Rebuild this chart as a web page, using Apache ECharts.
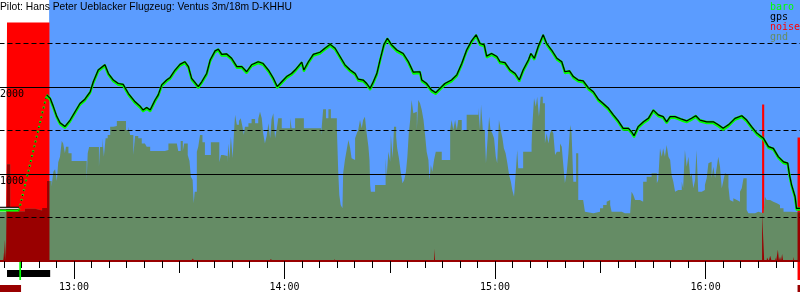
<!DOCTYPE html>
<html><head><meta charset="utf-8">
<script src="https://cdn.jsdelivr.net/npm/echarts@6/dist/echarts.min.js"></script>
<style>html,body{margin:0;padding:0;background:#fff}#c{width:800px;height:300px}</style>
</head><body><div id="c"></div>
<script>
// All times are minutes after midnight
const titleText = 'Pilot: Hans Peter Ueblacker Flugzeug: Ventus 3m/18m D-KHHU';
const legendNames = ['baro', 'gps', 'noise', 'gnd'];
const yLabelValues = [1000, 2000];

const viewStart = 758.9, viewEnd = 986.9;       // visible time window
const flightPeriod = [772.9, 986.9];             // blue sky background
const towPeriod = [760.9, 773.2];                // black bar under axis
const takeoffMark = [764.4, 764.9];              // green marker
const preNoiseMark = [758.9, 764.9];             // dark red marker
const endMark = [986.2, 986.9];                  // red marker

// barograph on the ground, tow and free flight
const baroGroundTimes = [758.9, 764.3];
const baroGroundValues = [580, 580];
const gpsGroundValues = [605, 605];
const baroTowTimes = [764.3, 772.2];
const baroTowValues = [580, 1910];
const baroTimes = [772.2,773.2,774.1,775.1,776.0,777.4,778.9,780.3,781.7,783.1,784.6,785.5,786.9,788.8,789.8,791.2,792.6,794.0,795.5,797.4,798.8,799.7,800.7,801.7,803.1,804.0,805.0,806.4,807.4,808.8,810.2,811.6,812.6,813.5,814.5,815.4,816.4,817.8,818.8,820.2,821.1,822.1,823.5,824.9,826.4,827.8,829.2,830.6,832.5,833.9,835.4,836.8,837.9,839.2,840.6,842.0,843.0,844.9,845.5,846.8,848.2,850.1,851.5,853.0,854.4,855.8,857.2,858.7,860.1,861.0,862.4,863.4,864.4,865.3,866.3,867.2,868.3,869.3,870.5,872.0,873.8,875.3,876.7,878.6,879.1,880.5,881.9,883.1,884.3,885.7,887.6,889.1,890.5,891.9,893.3,894.6,895.7,896.9,897.6,899.0,900.5,901.4,902.8,904.3,905.7,906.9,908.0,909.5,910.2,911.2,912.3,913.7,914.7,916.1,917.6,919.0,919.9,921.2,922.3,923.7,925.1,926.6,928.0,929.4,930.8,932.3,933.7,935.1,936.5,938.0,938.9,939.6,940.8,942.3,943.7,945.1,946.5,947.9,948.9,949.9,951.3,953.2,954.6,956.0,957.2,958.4,960.3,962.2,963.6,965.0,966.5,968.4,970.3,971.7,973.1,974.6,976.5,977.9,979.3,980.7,982.2,983.4,983.9,984.5,985.5,985.9,986.9];
const baroValues = [1910,1870,1775,1660,1590,1545,1620,1715,1810,1860,1945,2060,2195,2255,2155,2080,2040,2030,1925,1830,1780,1735,1765,1735,1850,1910,2025,2080,2110,2195,2260,2290,2235,2100,2050,2005,2060,2155,2310,2415,2435,2375,2380,2330,2235,2235,2175,2255,2290,2270,2195,2100,2005,2060,2120,2155,2195,2285,2195,2290,2375,2400,2445,2490,2445,2350,2255,2195,2155,2090,2080,2040,1985,2060,2155,2310,2485,2560,2485,2425,2385,2290,2170,2175,2080,2040,1965,1935,1985,2040,2080,2140,2270,2425,2530,2600,2500,2485,2355,2385,2350,2290,2280,2195,2155,2080,2195,2310,2385,2330,2465,2600,2500,2425,2330,2290,2175,2185,2120,2080,2070,1990,1945,1860,1810,1755,1680,1610,1525,1525,1485,1440,1545,1600,1640,1735,1680,1660,1600,1660,1660,1630,1610,1640,1670,1620,1600,1600,1565,1525,1565,1640,1670,1620,1545,1470,1410,1315,1295,1200,1140,1125,990,875,740,605,605];

// ground elevation (step)
const gndTimes = [758.9,760.9,761.8,766.0,768.9,770.9,772.3,773.6,774.1,774.6,775.1,775.5,776.0,776.5,776.9,777.4,777.7,778.4,779.3,783.6,783.9,784.3,787.1,787.4,788.1,788.5,789.0,789.6,790.3,791.2,792.2,794.8,795.5,796.0,796.9,797.4,798.3,799.3,800.2,800.7,801.7,805.9,806.9,809.3,809.7,810.4,811.0,811.4,812.4,812.9,813.3,813.8,814.1,814.4,815.0,815.4,815.9,816.6,817.3,819.0,821.4,821.9,822.5,823.0,823.7,824.0,824.3,824.7,825.2,825.6,825.9,826.4,827.0,827.5,828.0,828.4,828.7,829.7,830.6,831.6,832.5,833.0,833.5,833.9,834.4,834.9,835.4,835.9,836.3,836.8,837.3,837.8,838.2,839.2,841.6,842.0,843.0,845.5,850.4,850.8,851.0,851.8,852.5,853.2,854.9,855.3,855.6,856.0,856.5,856.7,857.2,857.7,858.2,858.7,859.1,859.6,860.1,860.6,861.0,861.5,862.0,862.4,862.9,863.4,863.9,864.2,864.4,864.6,865.8,868.8,869.1,869.6,870.1,870.3,870.8,871.2,871.8,872.1,872.6,873.1,873.6,874.1,874.6,875.0,875.4,875.8,876.2,876.7,877.2,877.7,878.1,878.6,879.1,879.6,880.0,880.5,881.0,881.3,881.7,882.1,882.6,883.1,884.8,887.2,887.6,888.1,888.6,889.1,889.5,890.5,891.9,895.2,895.7,896.0,896.5,897.1,897.4,897.9,898.3,898.7,899.2,899.7,900.2,900.6,901.1,901.6,902.1,902.5,903.0,903.5,904.0,904.5,904.9,905.4,905.9,906.3,906.6,908.0,910.4,910.6,911.1,911.6,912.0,912.5,913.0,913.6,914.2,914.7,915.2,915.7,916.1,916.6,917.1,917.6,918.5,919.0,919.4,919.9,920.4,920.9,921.4,921.8,922.3,923.1,923.7,925.1,925.6,926.1,928.0,929.9,930.8,931.8,932.3,932.8,933.2,936.1,937.0,937.5,938.5,938.9,939.4,939.9,941.3,942.2,943.2,944.6,946.1,946.5,947.0,947.5,947.9,948.4,948.9,949.4,949.9,950.3,950.8,951.3,951.8,952.2,952.7,953.2,953.6,954.1,954.6,955.1,955.6,956.0,956.5,957.0,957.4,957.9,958.9,959.8,960.3,960.8,961.3,961.7,962.2,962.7,963.2,963.6,964.1,964.6,965.0,965.5,966.0,966.5,966.9,967.4,967.9,968.4,968.9,969.8,970.3,970.8,971.7,972.2,973.2,973.6,974.1,975.0,976.5,976.9,977.4,978.4,979.3,980.3,981.2,982.2,984.1,986.9];
const gndValues = [567,1111,570,600,580,610,920,854,1027,1054,920,1134,1199,1379,1352,1238,1314,1238,1150,920,1238,1310,1084,1310,1410,1199,1410,1448,1544,1552,1609,1506,1544,1448,1218,1437,1410,1352,1371,1314,1264,1276,1352,1371,1264,1379,1264,1352,1218,1150,969,931,663,797,1257,1314,1448,1364,1218,1364,1134,1218,1238,1207,1134,1352,1180,1429,1180,1487,1682,1567,1609,1640,1544,1448,1544,1582,1632,1582,1632,1716,1640,1467,1352,1437,1582,1410,1628,1697,1410,1525,1640,1525,1640,1525,1640,1525,1448,1640,1743,1640,1743,1640,1525,1027,759,644,605,1008,1161,1276,1391,1295,1180,1161,1410,1467,1506,1621,1525,1621,1659,1467,1314,1161,874,797,874,1180,969,1257,1142,1448,1180,1544,1429,1295,1180,1027,893,931,1027,1199,1467,1621,1851,1697,1716,1506,1851,1812,1736,1621,1467,1257,1161,931,1103,1027,1161,1257,1161,1506,1621,1506,1621,1506,1621,1506,1682,1759,1506,1797,1506,1429,1123,1429,1659,1506,1467,1410,1199,1123,1621,1506,1410,1295,1238,1123,988,912,816,739,1027,1276,1065,1257,1333,1544,1870,1774,1889,1659,1889,1812,1352,1467,1352,1467,1506,1467,1218,1257,1352,1314,1123,893,1008,1238,1563,1467,912,1238,701,720,567,548,567,605,644,682,701,644,567,548,529,548,567,797,759,701,682,912,969,1008,893,931,1295,1199,1295,1199,1333,1199,1161,988,912,797,816,797,816,912,835,1276,1084,1199,969,1008,835,931,1276,797,816,874,950,1123,1142,950,1084,950,1084,1199,1084,835,912,1008,988,854,701,682,720,701,682,797,835,950,586,548,567,548,567,548,567,739,701,682,663,644,605,567,560,560];

// noise level (step)
const noiseTimes = [758.9,759.8,760.0,760.3,760.6,760.9,773.0,813.9,814.2,833.6,833.9,836.1,836.4,854.1,854.4,869.8,870.1,882.6,882.9,976.1,976.7,977.5,978.0,978.4,978.8,979.8,980.1,980.6,980.9,981.2,981.5,981.8,982.1,984.9,985.2,986.2,986.9];
const noiseValues = [0,100,0,240,0,2740,0,30,0,20,0,20,0,25,0,20,0,140,0,1800,0,40,0,60,0,40,0,130,0,50,0,80,0,50,0,1420,1420];

// ---------- build ----------
const C = {
  sky: '#5b9cff', gnd: '#658c65', noise: '#ff0000', noiseDark: '#990000',
  baro: '#00ff00', gps: '#000000'
};
const X0 = 720, X1 = 1020;
const pxPerMin = 800 / (viewEnd - viewStart);
const gridLeft = -(viewStart - X0) * pxPerMin;
const gridRight = -(X1 - viewEnd) * pxPerMin;

const pairs = (ts, vs) => ts.map((t, i) => [t, vs[i]]);
function stepAt(ts, vs, t) { let v = 0; for (let i = 0; i < ts.length; i++) { if (ts[i] <= t) v = vs[i]; else break; } return v; }
const mergedT = Array.from(new Set([...noiseTimes, ...gndTimes])).sort((a, b) => a - b);
const noiseUnderGnd = mergedT.map(t => {
  const n = stepAt(noiseTimes, noiseValues, t), g = stepAt(gndTimes, gndValues, t);
  return [t, n > 0 ? Math.min(n, g) : 0];
});
const fmt = v => Math.floor(v / 60) + ':' + String(Math.round(v % 60)).padStart(2, '0');
const mono = 'DejaVu Sans Mono';

const xBase = { type: 'value', min: X0, max: X1, gridIndex: 0, position: 'bottom', z: 6,
  splitLine: { show: false }, axisLabel: { show: false }, axisLine: { show: false } };
const baroStyle = { color: C.baro, width: 2, shadowColor: C.baro, shadowBlur: 0, shadowOffsetY: 1.5 };

const option = {
  animation: false,
  backgroundColor: '#fff',
  title: { text: titleText, left: 0, top: 2, padding: 0, z: 10,
    textStyle: { fontFamily: 'Liberation Sans', fontSize: 10.3, fontWeight: 'normal', color: '#000' } },
  legend: {
    orient: 'vertical', left: 761, top: 2, padding: 0, itemWidth: 0, itemHeight: 10, itemGap: 0, z: 10,
    itemStyle: { opacity: 0 }, lineStyle: { opacity: 0 }, selectedMode: false,
    textStyle: { fontFamily: mono, fontSize: 10, lineHeight: 10 },
    data: [
      { name: legendNames[0], textStyle: { color: C.baro } },
      { name: legendNames[1], textStyle: { color: C.gps } },
      { name: legendNames[2], textStyle: { color: C.noise } },
      { name: legendNames[3], textStyle: { color: C.gnd } }
    ]
  },
  grid: [
    { left: gridLeft, right: gridRight, top: 0, bottom: 39, containLabel: false, outerBoundsMode: 'none' },
    { left: gridLeft, right: gridRight, top: 262, bottom: 0, containLabel: false, outerBoundsMode: 'none' }
  ],
  xAxis: [
    Object.assign({}, xBase, { interval: 60,
      axisLine: { show: true, onZero: false, lineStyle: { color: C.noiseDark, width: 2 } },
      axisTick: { show: true, length: 18, lineStyle: { color: '#000', width: 1 } },
      axisLabel: { show: true, formatter: fmt, margin: 21, fontFamily: mono, fontSize: 10, color: '#000' } }),
    Object.assign({}, xBase, { interval: 30, axisTick: { show: true, length: 12, lineStyle: { color: '#000', width: 1 } } }),
    Object.assign({}, xBase, { interval: 5, axisTick: { show: true, length: 7, lineStyle: { color: '#000', width: 1 } } }),
    { type: 'value', min: X0, max: X1, gridIndex: 1, show: false }
  ],
  yAxis: [
    { type: 'value', min: 0, max: 3000, interval: 1000, position: 'left', z: 6,
      axisLine: { show: false }, axisTick: { show: false },
      splitLine: { show: true, showMinLine: false, showMaxLine: false, lineStyle: { color: '#000', width: 1, type: 'solid' } },
      axisLabel: { show: true, inside: true, margin: -gridLeft, align: 'left', verticalAlign: 'top', padding: [2, 0, 0, 0],
        fontFamily: mono, fontSize: 10, color: '#000',
        formatter: v => yLabelValues.includes(v) ? String(v) : '' } },
    { type: 'value', min: 0, max: 3000, interval: 500, position: 'left', z: 5,
      axisLine: { show: false }, axisTick: { show: false }, axisLabel: { show: false },
      splitLine: { show: true, showMinLine: false, showMaxLine: false, lineStyle: { color: '#000', width: 1, type: [5, 3] } } },
    { type: 'value', min: 0, max: 38, inverse: true, gridIndex: 1, show: false }
  ],
  series: [
    { name: 'sky', type: 'line', data: [], z: 1, silent: true,
      markArea: { silent: true, itemStyle: { color: C.sky, opacity: 1 },
        data: [[{ xAxis: flightPeriod[0] }, { xAxis: flightPeriod[1] }]] } },
    { name: 'noise', type: 'line', step: 'end', symbol: 'none', z: 2, data: pairs(noiseTimes, noiseValues),
      lineStyle: { width: 0 }, itemStyle: { color: C.noise }, areaStyle: { color: C.noise, opacity: 1 } },
    { name: 'gnd', type: 'line', step: 'end', symbol: 'none', z: 3, data: pairs(gndTimes, gndValues),
      lineStyle: { width: 0 }, itemStyle: { color: C.gnd }, areaStyle: { color: C.gnd, opacity: 1 } },
    { name: 'noise', type: 'line', step: 'end', symbol: 'none', z: 4, data: noiseUnderGnd,
      lineStyle: { width: 0 }, itemStyle: { color: C.noiseDark }, areaStyle: { color: C.noiseDark, opacity: 1 } },
    { name: 'gps', type: 'line', symbol: 'none', z: 7, data: pairs(baroGroundTimes, gpsGroundValues),
      itemStyle: { color: C.gps }, lineStyle: { color: C.gps, width: 3 } },
    { name: 'gps', type: 'line', symbol: 'none', z: 7, data: pairs(baroGroundTimes, gpsGroundValues),
      itemStyle: { color: C.gps }, lineStyle: { color: '#ffffff', width: 1 } },
    { name: 'baro', type: 'line', symbol: 'none', z: 8, data: pairs(baroGroundTimes, baroGroundValues),
      itemStyle: { color: C.baro }, lineStyle: { color: C.baro, width: 2 } },
    { name: 'baro', type: 'line', symbol: 'none', z: 8, data: pairs(baroTowTimes, baroTowValues),
      itemStyle: { color: C.baro }, lineStyle: { color: C.baro, width: 2, type: [2, 3] } },
    { name: 'baro', type: 'line', symbol: 'none', z: 8, data: pairs(baroTimes, baroValues),
      itemStyle: { color: C.baro }, lineStyle: baroStyle },
    { name: 'gps', type: 'line', symbol: 'none', z: 9, data: pairs(baroTowTimes, baroTowValues),
      itemStyle: { color: C.gps }, lineStyle: { color: C.gps, width: 1, type: [1, 4] } },
    { name: 'gps', type: 'line', symbol: 'none', z: 9, data: pairs(baroTimes, baroValues),
      itemStyle: { color: C.gps }, lineStyle: { color: C.gps, width: 1.2 } },
    { name: 'marks', type: 'line', xAxisIndex: 3, yAxisIndex: 2, data: [], z: 5, silent: true,
      markArea: { silent: true, data: [
        [{ xAxis: towPeriod[0], yAxis: 8, itemStyle: { color: '#000', opacity: 1 } }, { xAxis: towPeriod[1], yAxis: 15 }],
        [{ xAxis: takeoffMark[0], yAxis: 0, itemStyle: { color: C.baro, opacity: 1 } }, { xAxis: takeoffMark[1], yAxis: 18 }],
        [{ xAxis: preNoiseMark[0], yAxis: 23, itemStyle: { color: C.noiseDark, opacity: 1 } }, { xAxis: preNoiseMark[1], yAxis: 30 }],
        [{ xAxis: endMark[0], yAxis: 0, itemStyle: { color: C.noise, opacity: 1 } }, { xAxis: endMark[1], yAxis: 18 }],
        [{ xAxis: endMark[0], yAxis: 23, itemStyle: { color: C.noiseDark, opacity: 1 } }, { xAxis: endMark[1], yAxis: 30 }]
      ] } }
  ]
};
const chart = echarts.init(document.getElementById('c'), null, { renderer: 'canvas' });
chart.setOption(option);
</script></body></html>
